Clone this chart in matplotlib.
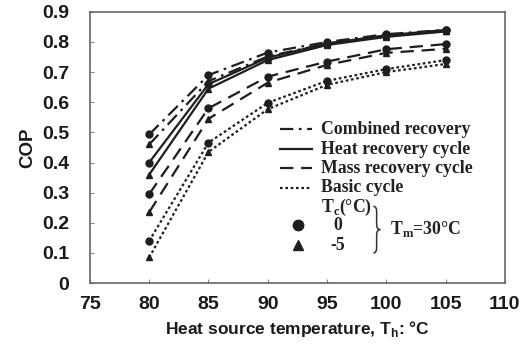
import matplotlib
matplotlib.use('Agg')
import matplotlib.pyplot as plt
from matplotlib.path import Path
from matplotlib.patches import PathPatch

plt.rcParams['mathtext.fontset'] = 'custom'
plt.rcParams['mathtext.bf'] = 'Liberation Serif:bold'
plt.rcParams['mathtext.sf'] = 'Liberation Sans:bold'

# heat source temperature (C)
th = [80, 85, 90, 95, 100, 105]

# COP, Tc = 0 C (circles) and Tc = -5 C (triangles)
combined_0 = [0.493, 0.690, 0.765, 0.800, 0.826, 0.840]
combined_m5 = [0.460, 0.670, 0.752, 0.795, 0.821, 0.836]
heat_0 = [0.400, 0.660, 0.748, 0.795, 0.822, 0.840]
heat_m5 = [0.360, 0.645, 0.740, 0.790, 0.817, 0.835]
mass_0 = [0.295, 0.580, 0.685, 0.735, 0.776, 0.793]
mass_m5 = [0.235, 0.545, 0.665, 0.724, 0.764, 0.777]
basic_0 = [0.140, 0.466, 0.598, 0.671, 0.710, 0.740]
basic_m5 = [0.085, 0.435, 0.577, 0.658, 0.700, 0.727]

cycle_names = ["Combined recovery", "Heat recovery cycle", "Mass recovery cycle", "Basic cycle"]
styles = [(0, (6, 2.5, 1.2, 2.5)), "-", (0, (6, 3.5)), (0, (1.2, 1.2))]

x_ticks = [75, 80, 85, 90, 95, 100, 105, 110]
y_ticks = [0, 0.1, 0.2, 0.3, 0.4, 0.5, 0.6, 0.7, 0.8, 0.9]
y_tick_labels = ["0", "0.1", "0.2", "0.3", "0.4", "0.5", "0.6", "0.7", "0.8", "0.9"]

col = "#1e1e1e"

fig = plt.figure(figsize=(5.32, 3.49), dpi=100)
ax = fig.add_axes([0.169, 0.189, 0.780, 0.777])

series = [(combined_0, combined_m5), (heat_0, heat_m5), (mass_0, mass_m5), (basic_0, basic_m5)]
for (s0, s5), ls in zip(series, styles):
	ax.plot(th, s0, color=col, ls=ls, lw=1.6, marker="o", ms=5, mfc=col, mec=col)
	ax.plot(th, s5, color=col, ls=ls, lw=1.6, marker="^", ms=5, mfc=col, mec=col)

ax.set_xlim(75, 110)
ax.set_ylim(0, 0.9)
ax.set_xticks(x_ticks)
ax.set_yticks(y_ticks)
ax.set_yticklabels(y_tick_labels)
ax.tick_params(direction="in", length=3, color="#888888", labelsize=14)
ax.tick_params(axis="x", pad=9)
ax.tick_params(axis="y", pad=15)
for lab in ax.get_xticklabels() + ax.get_yticklabels():
	lab.set_fontweight("bold")
	lab.set_family("Liberation Sans")
	lab.set_color("#1a1a1a")
for sp in ax.spines.values():
	sp.set_color("#666666")
	sp.set_linewidth(1.2)

ax.set_xlabel("Heat source temperature, T$_\\mathsf{h}$: °C", fontsize=12.5, fontweight="bold",
	family="Liberation Sans", labelpad=5, color="#1a1a1a")
ax.set_ylabel("COP", fontsize=13.5, fontweight="bold", family="Liberation Sans", labelpad=4, color="#1a1a1a")

# legend, drawn by hand
serif = dict(family="Liberation Serif", fontweight="bold", fontsize=12.8, color="#222222", va="center")
rows_y = [0.568, 0.494, 0.424, 0.351]
for name, ls, yy in zip(cycle_names, styles, rows_y):
	ax.plot([0.458, 0.535], [yy, yy], transform=ax.transAxes, color=col, ls=ls, lw=1.6)
	ax.text(0.557, yy, name, transform=ax.transAxes, **serif)

ax.text(0.557, 0.280, "T$_\\mathbf{c}$(°C)", transform=ax.transAxes, **serif)
ax.plot([0.501], [0.214], transform=ax.transAxes, marker="o", ms=7.5, color=col)
ax.plot([0.501], [0.140], transform=ax.transAxes, marker="^", ms=7.5, color=col)
ax.text(0.597, 0.212, "0", transform=ax.transAxes, ha="center", **serif)
ax.text(0.597, 0.140, "-5", transform=ax.transAxes, ha="center", **serif)

# curly brace
bx0, bx1, bxm = 0.683, 0.700, 0.691
by0, by1 = 0.283, 0.111
bym = (by0 + by1) / 2
codes = [Path.MOVETO, Path.CURVE3, Path.CURVE3, Path.LINETO, Path.CURVE3, Path.CURVE3]
verts = [(bx0, by0), (bxm, by0), (bxm, by0 - 0.02), (bxm, bym + 0.02),
	(bxm, bym), (bx1, bym)]
ax.add_patch(PathPatch(Path(verts, codes), transform=ax.transAxes, fill=False, lw=1.1, ec="#333333"))
verts2 = [(bx0, by1), (bxm, by1), (bxm, by1 + 0.02), (bxm, bym - 0.02),
	(bxm, bym), (bx1, bym)]
ax.add_patch(PathPatch(Path(verts2, codes), transform=ax.transAxes, fill=False, lw=1.1, ec="#333333"))

ax.text(0.723, 0.200, "T$_\\mathbf{m}$=30°C", transform=ax.transAxes, **serif)

fig.savefig("out.png", dpi=100)
